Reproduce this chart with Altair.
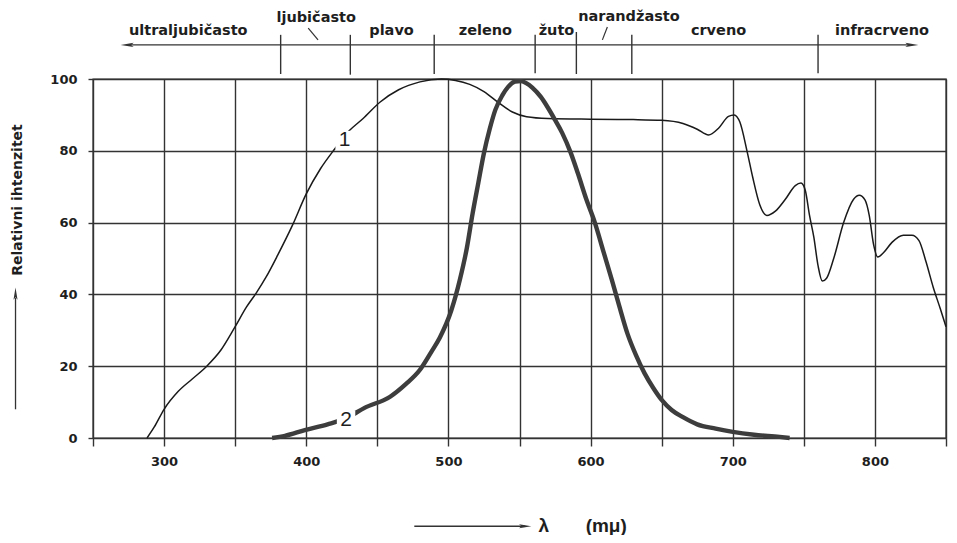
import altair as alt
import pandas as pd

# ---- data ----
c1_wl = [288, 293, 300, 310, 320, 330, 340, 350, 358, 365, 372, 380, 390, 400, 410, 420,
         430, 440, 452, 465, 480, 495, 505, 515, 525, 535, 545, 555, 570, 600, 630, 650,
         665, 675, 683, 690, 697, 701, 705, 710, 714, 719, 724, 730, 737, 744, 748, 751,
         754, 757, 760, 763, 766, 771, 778, 785, 789, 793, 796, 799, 802, 806, 812, 820,
         826, 831, 836, 841, 846, 850]
c1_val = [0, 3, 8, 13, 16.5, 20, 24.5, 31, 36.5, 40.5, 45, 51, 59, 68, 75, 80.5,
          85.5, 89, 93.6, 97, 99.2, 100, 99.6, 98.5, 96.5, 93.5, 90.8, 89.5, 89, 88.8, 88.7, 88.5,
          87.6, 86, 84.4, 86.3, 89.6, 90, 88, 80, 72.7, 65, 62, 63.2, 66.5, 70.3, 71, 69,
          62, 56, 48, 43.7, 44.5, 50, 60, 66.5, 67.6, 66.3, 62, 54, 50.4, 51.6, 54.5, 56.5,
          56.5, 55, 49, 42, 36, 31]

c2_wl = [376, 385, 399, 415, 428, 441, 459, 470, 480, 488, 494, 502, 508, 513, 517, 521,
         525, 529, 533, 538, 542, 547, 551, 555, 559, 565, 570, 575, 580, 586, 591, 597,
         603, 609, 615, 620, 626, 632, 638, 644, 650, 657, 665, 675, 688, 700, 715, 733, 740]
c2_val = [0, 0.6, 2.2, 3.8, 5.5, 8.4, 11.5, 15, 19, 24, 28, 35.5, 44, 53, 62.5, 71,
          79.4, 86, 91.4, 95.5, 97.8, 99.3, 99.4, 98.8, 97.6, 95, 92, 88.6, 85, 79.5, 73.8, 66.5,
          60, 52, 44, 37, 29, 23, 18, 14, 10.6, 7.8, 5.8, 3.8, 2.6, 1.7, 0.9, 0.3, 0]

x_ticks = list(range(250, 851, 50))
y_ticks = [0, 20, 40, 60, 80, 100]

curve_labels = ["1", "2"]
curve_label_wl = [427, 428]
curve_label_val = [83, 5]

band_names = ["ultraljubičasto", "ljubičasto", "plavo", "zeleno", "žuto",
              "narandžasto", "crveno", "infracrveno"]
band_name_wl = [317, 407, 460, 526, 576, 627, 690, 805]
band_name_y = [112.3, 115.8, 112.3, 112.3, 112.3, 116.2, 112.3, 112.3]

sep_wl = [382, 431, 490, 561, 590, 629, 760]
sep_top = [112.3, 112.3, 112.3, 112.3, 113.1, 112.3, 112.3]
sep_bottom = [101.4, 101.2, 101.4, 101.6, 101.4, 101.4, 101.6]

leader_wl1 = [401.4, 611.8]
leader_wl2 = [408.3, 608.3]
leader_y1 = [114.2, 114.5]
leader_y2 = [110.9, 110.9]

band_arrow_wl = [274, 826]
band_arrow_y = 109.5

y_title = "Relativni ihtenzitet"
x_title_sym = ["λ", "(mμ)"]

# ---- build ----
FONT = "DejaVu Sans"
INK = "#1e1e1e"
GRID = "#333"
xs = alt.Scale(domain=[250, 850], nice=False, zero=False)
ys = alt.Scale(domain=[0, 100], nice=False, zero=False)

x_axis = alt.Axis(values=x_ticks, grid=True, gridColor=GRID, gridWidth=1.4,
                  domain=False, tickColor=GRID, tickWidth=1.4, tickSize=8,
                  labelExpr="(datum.value % 100 == 0 && datum.value > 250 && datum.value < 850) ? datum.label : ''",
                  labelFont=FONT, labelFontSize=13, labelFontWeight="bold",
                  labelColor=INK, labelPadding=9, labelFlush=False, title=None)
y_axis = alt.Axis(values=y_ticks, grid=True, gridColor=GRID, gridWidth=1.4,
                  domain=False, tickColor=GRID, tickWidth=1.4, tickSize=5,
                  labelFont=FONT, labelFontSize=13, labelFontWeight="bold",
                  labelColor=INK, labelPadding=11, title=None)

def X(field="wl"):
    return alt.X(f"{field}:Q", scale=xs, axis=x_axis, title=None)

def Y(field="v"):
    return alt.Y(f"{field}:Q", scale=ys, axis=y_axis, title=None)

df1 = pd.DataFrame({"wl": c1_wl, "v": c1_val})
df2 = pd.DataFrame({"wl": c2_wl, "v": c2_val})

line1 = alt.Chart(df1).mark_line(color="#1a1a1a", strokeWidth=1.5,
                                 interpolate="monotone").encode(x=X(), y=Y())
line2 = alt.Chart(df2).mark_line(color="#3d3d3d", strokeWidth=4.4,
                                 interpolate="monotone").encode(x=X(), y=Y())

dfl = pd.DataFrame({"wl": curve_label_wl, "v": curve_label_val, "t": curve_labels})
lbl_bg = alt.Chart(dfl).mark_square(size=340, color="white", opacity=1).encode(x=X(), y=Y())
lbl_txt = alt.Chart(dfl).mark_text(font="Liberation Sans", fontSize=21, color=INK,
                                   baseline="middle", align="center").encode(
    x=X(), y=Y(), text="t:N")

# top band
dfa = pd.DataFrame({"wl": [band_arrow_wl[0]], "wl2": [band_arrow_wl[1]], "v": [band_arrow_y]})
band_rule = alt.Chart(dfa).mark_rule(color=GRID, strokeWidth=1.4).encode(
    x=X(), x2="wl2:Q", y=Y())
head_path = "M 1 0 L -1 -0.33 L -0.6 0 L -1 0.33 Z"
dfh = pd.DataFrame({"wl": band_arrow_wl, "v": [band_arrow_y] * 2, "a": [180, 0]})
band_heads = alt.Chart(dfh).mark_point(shape=head_path, filled=True, size=170,
                                       color=GRID, opacity=1).encode(
    x=X(), y=Y(), angle=alt.Angle("a:Q", scale=None))

dfs = pd.DataFrame({"wl": sep_wl, "v": sep_top, "v2": sep_bottom})
seps = alt.Chart(dfs).mark_rule(color=GRID, strokeWidth=1.4).encode(
    x=X(), y=Y(), y2="v2:Q")
dfld = pd.DataFrame({"wl": leader_wl1, "wl2": leader_wl2, "v": leader_y1, "v2": leader_y2})
leaders = alt.Chart(dfld).mark_rule(color=GRID, strokeWidth=1.2).encode(
    x=X(), x2="wl2:Q", y=Y(), y2="v2:Q")

dfb = pd.DataFrame({"wl": band_name_wl, "v": band_name_y, "t": band_names})
band_txt = alt.Chart(dfb).mark_text(font=FONT, fontSize=14.5, fontWeight="bold",
                                    color=INK, baseline="alphabetic", align="center").encode(
    x=X(), y=Y(), text="t:N")

# y title with arrow
dfyt = pd.DataFrame({"wl": [197.5], "v": [66.3], "t": [y_title]})
y_txt = alt.Chart(dfyt).mark_text(font=FONT, fontSize=14, fontWeight="bold", color=INK,
                                  angle=270, align="center", baseline="middle").encode(
    x=X(), y=Y(), text="t:N")
dfya = pd.DataFrame({"wl": [195.5], "v": [8.0], "v2": [39.0]})
y_arrow = alt.Chart(dfya).mark_rule(color=GRID, strokeWidth=1.3).encode(
    x=X(), y=Y(), y2="v2:Q")
dfyh = pd.DataFrame({"wl": [195.5], "v": [40.2], "a": [270]})
y_head = alt.Chart(dfyh).mark_point(shape=head_path, filled=True, size=150,
                                    color=GRID, opacity=1).encode(
    x=X(), y=Y(), angle=alt.Angle("a:Q", scale=None))

# x title with arrow
dfxa = pd.DataFrame({"wl": [476], "wl2": [554], "v": [-24.6]})
x_arrow = alt.Chart(dfxa).mark_rule(color=GRID, strokeWidth=1.4).encode(
    x=X(), x2="wl2:Q", y=Y())
dfxh = pd.DataFrame({"wl": [554], "v": [-24.6], "a": [0]})
x_head = alt.Chart(dfxh).mark_point(shape=head_path, filled=True, size=150,
                                    color=GRID, opacity=1).encode(
    x=X(), y=Y(), angle=alt.Angle("a:Q", scale=None))
dfxt = pd.DataFrame({"wl": [567, 611], "v": [-24.6, -24.6], "t": x_title_sym})
x_txt = alt.Chart(dfxt).mark_text(font="Liberation Sans", fontSize=19, fontWeight="bold",
                                  color=INK, align="center", baseline="middle").encode(
    x=X(), y=Y(), text="t:N")

chart = alt.layer(
    line1, line2, lbl_bg, lbl_txt,
    band_rule, band_heads, seps, leaders, band_txt,
    y_txt, y_arrow, y_head,
    x_arrow, x_head, x_txt,
).properties(
    width=853, height=359,
    autosize="none",
    padding={"left": 85, "top": 71, "right": 3, "bottom": 97},
    background="white",
).configure_view(stroke=GRID, strokeWidth=1.4)

chart.save("out.html", embed_options={"renderer": "svg", "actions": False})
